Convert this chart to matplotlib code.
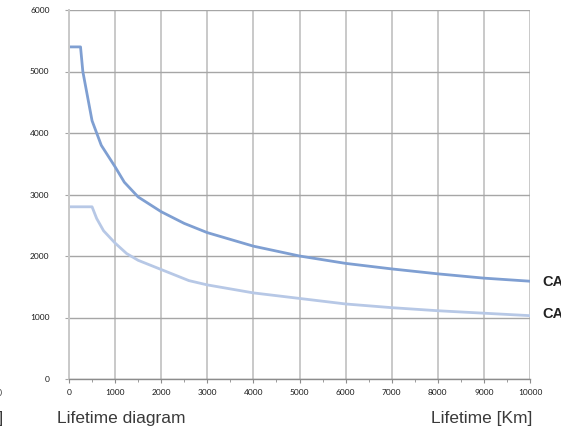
import numpy as np
import matplotlib
matplotlib.use("Agg")
import matplotlib.pyplot as plt
from matplotlib.ticker import MultipleLocator

# lifetime curves
km_upper = [0, 250, 300, 400, 500, 700, 1000, 1200, 1500, 2000, 2500, 3000,
            4000, 5000, 6000, 7000, 8000, 9000, 10000]
load_upper = [5400, 5400, 5000, 4600, 4200, 3800, 3450, 3200, 2960, 2720, 2530, 2380,
              2160, 2000, 1880, 1790, 1710, 1640, 1590]

km_lower = [0, 500, 600, 750, 1000, 1250, 1500, 2000, 2600, 3000,
            4000, 5000, 6000, 7000, 8000, 9000, 10000]
load_lower = [2800, 2800, 2610, 2410, 2210, 2040, 1930, 1780, 1600, 1530,
              1400, 1310, 1220, 1160, 1110, 1070, 1030]

x_ticks = list(range(0, 10001, 1000))
y_ticks = list(range(0, 6001, 1000))
curve_labels = ["CA", "CA"]

fig = plt.figure(figsize=(5.61, 4.28), dpi=100)
ax = fig.add_axes([69 / 561, 1 - 379 / 428, 461 / 561, 369 / 428])

ax.plot(km_upper, load_upper, color="#7f9fd2", lw=2.0, solid_joinstyle="round")
ax.plot(km_lower, load_lower, color="#b7c8e6", lw=2.0, solid_joinstyle="round")

ax.set_xlim(0, 10000)
ax.set_ylim(0, 6000)
ax.set_xticks(x_ticks)
ax.set_yticks(y_ticks)
ax.xaxis.set_minor_locator(MultipleLocator(500))

# grid: vertical lighter, horizontal darker
ax.grid(axis="x", color="#c9c9c9", lw=1.4)
ax.grid(axis="y", color="#a6a6a6", lw=1.0)
ax.set_axisbelow(True)

for side in ["top", "right"]:
    ax.spines[side].set_visible(False)
ax.spines["left"].set_color("#c9c9c9")
ax.spines["left"].set_linewidth(1.4)
ax.spines["bottom"].set_color("#8c8c8c")
ax.spines["bottom"].set_linewidth(1.0)

ax.tick_params(axis="x", which="major", length=3, color="#8c8c8c", labelsize=6,
               labelcolor="#1a1a1a", pad=4)
ax.tick_params(axis="x", which="minor", length=2, color="#8c8c8c")
ax.tick_params(axis="y", length=3, color="#a6a6a6", labelsize=6,
               labelcolor="#1a1a1a", pad=11)
for lab in ax.get_xticklabels() + ax.get_yticklabels():
    lab.set_family("Lato")

# labels under the chart
fig.text(57 / 561, 1 - 418 / 428, "Lifetime diagram", fontsize=12.5, color="#3a3a3a",
         family="Liberation Sans", va="center", ha="left")
fig.text(532 / 561, 1 - 418 / 428, "Lifetime [Km]", fontsize=12.5, color="#3a3a3a",
         family="Liberation Sans", va="center", ha="right")

# curve names on the right, cut by the image edge
fig.text(542 / 561, 1 - 282 / 428, curve_labels[0], fontsize=10.5, color="#222222",
         family="Liberation Sans", weight="bold", va="center", ha="left")
fig.text(542 / 561, 1 - 314 / 428, curve_labels[1], fontsize=10.5, color="#222222",
         family="Liberation Sans", weight="bold", va="center", ha="left")

# pieces of the neighbouring chart, cut by the left edge
fig.text(2 / 561, 1 - 394 / 428, "0", fontsize=6.3, color="#444444",
         family="Lato", va="center", ha="right")
fig.text(4 / 561, 1 - 418 / 428, "[N]", fontsize=12.5, color="#3a3a3a",
         family="Liberation Sans", va="center", ha="right")

fig.savefig("out.png", dpi=100)
